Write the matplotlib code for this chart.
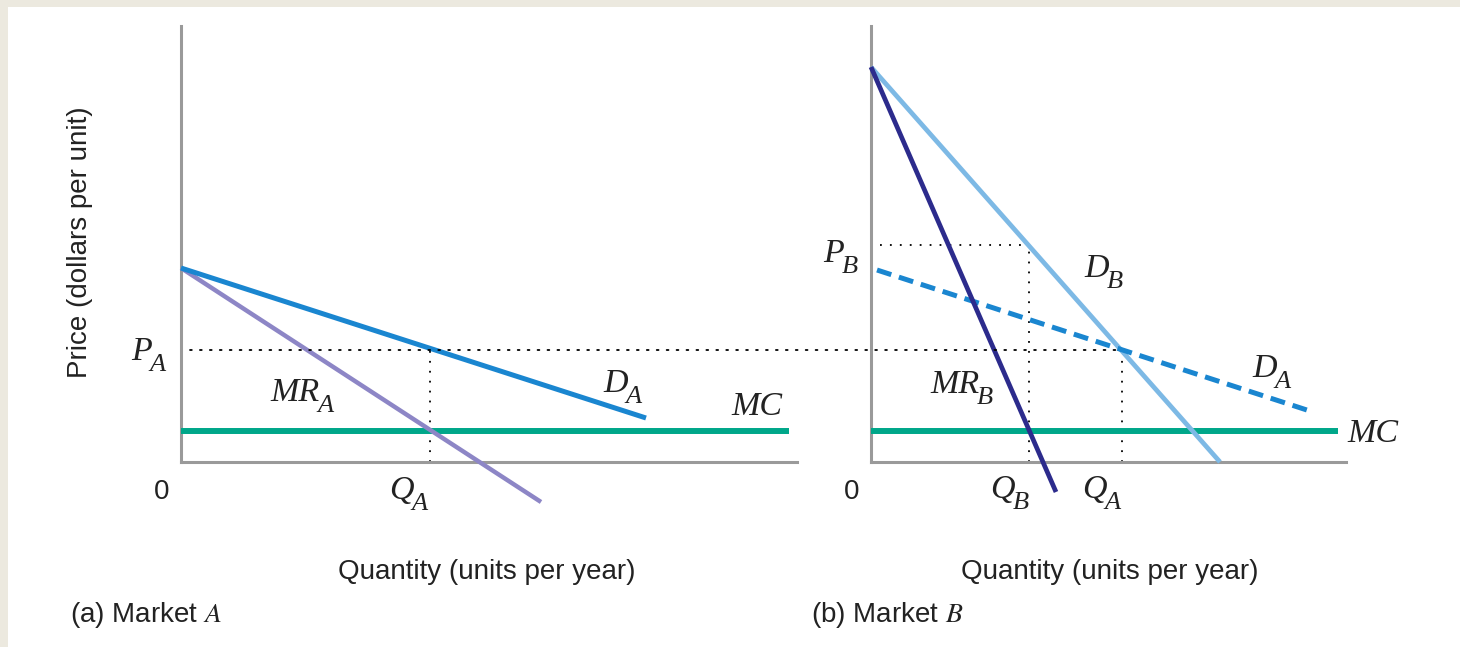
import matplotlib
matplotlib.use("Agg")
import matplotlib.pyplot as plt
from matplotlib.patches import Rectangle, ConnectionPatch

plt.rcParams['mathtext.fontset'] = 'stix'
plt.rcParams['font.family'] = ['Liberation Sans', 'DejaVu Sans']

# Market A curves (quantity, price)
dA_a_q = [0, 465]
dA_a_p = [194, 44]
mrA_q = [0, 360]
mrA_p = [194, -40]
mcA_q = [0, 608]
mcA_p = [31, 31]
pA = 112
qA = 249

# Market B curves
dB_q = [0, 349]
dB_p = [395, 0]
mrB_q = [0, 185]
mrB_p = [395, -30]
dA_b_q = [6, 442]
dA_b_p = [192, 50]
mcB_q = [0, 467]
mcB_p = [31, 31]
pB = 217
qB = 158
qA_b = 251

W, H = 1460, 647
fig = plt.figure(figsize=(W / 100, H / 100), dpi=100)
fig.patch.set_facecolor('#ECE9DF')
fig.patches.append(Rectangle((8 / W, 0), 1 - 8 / W, 1 - 7 / H, transform=fig.transFigure,
                             facecolor='white', edgecolor='none', zorder=-5))

axis_col = '#9a9a9a'
blue = '#1a86d0'
lav = '#8d86c6'
teal = '#00a78a'
light = '#7db9e5'
navy = '#2c2b8c'
ink = '#222222'
dot = (0, (1, 4.5))
sans = 20


def make_axes(left_px, right_px, xmax):
    ax = fig.add_axes([left_px / W, (H - 462) / H, (right_px - left_px) / W, 436 / H])
    ax.set_xlim(0, xmax)
    ax.set_ylim(0, 436)
    ax.patch.set_alpha(0)
    for s in ['top', 'right']:
        ax.spines[s].set_visible(False)
    for s in ['left', 'bottom']:
        ax.spines[s].set_color(axis_col)
        ax.spines[s].set_linewidth(2.2)
    ax.set_xticks([])
    ax.set_yticks([])
    return ax


def label(ax, x, y, main, sub=None):
    # italic serif letter with a low, fairly large subscript
    t = ax.text(x, y, main, fontsize=24.5, family='Liberation Serif', style='italic',
                color=ink, ha='left', va='baseline')
    if sub:
        ax.annotate(sub, xy=(1, 0), xycoords=t, xytext=(-1.5, -3), textcoords='offset points',
                    fontsize=19, family='Liberation Serif', style='italic', color=ink,
                    ha='left', va='baseline')


axA = make_axes(181, 797, 616)
axB = make_axes(871, 1346, 475)

# ---- panel A
axA.plot(mcA_q, mcA_p, color=teal, lw=4.3, solid_capstyle='butt', clip_on=False, zorder=3)
axA.plot(mrA_q, mrA_p, color=lav, lw=3.2, solid_capstyle='butt', clip_on=False, zorder=4)
axA.plot(dA_a_q, dA_a_p, color=blue, lw=3.6, solid_capstyle='butt', clip_on=False, zorder=5)
axA.plot([qA, qA], [0, pA], color='black', lw=1.3, linestyle=dot, zorder=2)
label(axA, -50, 102, 'P', 'A')
label(axA, 89, 61, 'MR', 'A')
label(axA, 422, 70, 'D', 'A')
label(axA, 550, 47, 'MC')
label(axA, 208, -37, 'Q', 'A')
axA.text(-19, -30, '0', fontsize=sans, ha='center', va='center', color=ink)
axA.text(306, -110, 'Quantity (units per year)', fontsize=sans, ha='center', va='center',
         color=ink)
axA.text(-111, -153, r'(a) Market $A$', fontsize=sans, ha='left', va='center', color=ink)
axA.text(-101, 220, 'Price (dollars per unit)', fontsize=sans, rotation=90,
         ha='center', va='center', color=ink)

# ---- panel B
axB.plot(mcB_q, mcB_p, color=teal, lw=4.3, solid_capstyle='butt', clip_on=False, zorder=3)
axB.plot(dB_q, dB_p, color=light, lw=3.4, solid_capstyle='butt', clip_on=False, zorder=4)
axB.plot(dA_b_q, dA_b_p, color=blue, lw=3.6, linestyle=(0, (3, 1.6)), clip_on=False, zorder=5)
axB.plot(mrB_q, mrB_p, color=navy, lw=3.4, solid_capstyle='butt', clip_on=False, zorder=6)
axB.plot([9, qB], [pB, pB], color='black', lw=1.3, linestyle=dot, zorder=2)
axB.plot([qB, qB], [0, pB], color='black', lw=1.3, linestyle=dot, zorder=2)
axB.plot([qA_b, qA_b], [0, pA], color='black', lw=1.3, linestyle=dot, zorder=2)
label(axB, -48, 200, 'P', 'B')
label(axB, 213, 185, 'D', 'B')
label(axB, 59, 69, 'MR', 'B')
label(axB, 381, 85, 'D', 'A')
label(axB, 476, 20, 'MC')
label(axB, 119, -36, 'Q', 'B')
label(axB, 211, -36, 'Q', 'A')
axB.text(-19, -30, '0', fontsize=sans, ha='center', va='center', color=ink)
axB.text(239, -110, 'Quantity (units per year)', fontsize=sans, ha='center', va='center',
         color=ink)
axB.text(-60, -153, r'(b) Market $B$', fontsize=sans, ha='left', va='center', color=ink)

# dotted P_A line running across both panels
con = ConnectionPatch(xyA=(9, pA), coordsA=axA.transData, xyB=(qA_b, pA), coordsB=axB.transData,
                      color='black', lw=1.3, linestyle=dot, zorder=2)
fig.add_artist(con)

fig.savefig('out.png', dpi=100, facecolor=fig.get_facecolor())
